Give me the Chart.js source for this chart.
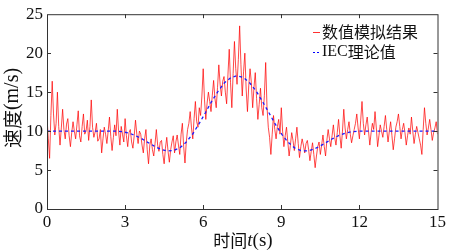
<!DOCTYPE html>
<html>
<head>
<meta charset="utf-8">
<script src="https://cdn.jsdelivr.net/npm/chart.js@4/dist/chart.umd.min.js"></script>
<style>
  html, body { margin: 0; padding: 0; background: #fff; }
  #wrap { width: 449px; height: 252px; }
</style>
</head>
<body>
<div id="wrap"><canvas id="speed"></canvas></div>
<script>
// Simulated wind speed, sampled every 0.05 s from 0 to 15 s (one row per second).
const simStep = 0.05;
const simSpeed = [
    11.8, 9.0, 6.5, 12.0, 16.4, 12.2, 9.5, 11.0, 15.0, 10.6, 8.2, 10.4, 12.8, 10.2, 9.0, 10.9, 11.6, 9.4, 8.0, 9.8,
    11.2, 10.0, 9.0, 10.8, 12.6, 9.4, 8.6, 10.6, 12.2, 9.6, 10.0, 11.4, 8.8, 10.6, 14.0, 10.5, 9.2, 9.9, 11.0, 8.7,
    9.0, 10.2, 7.2, 9.0, 10.5, 9.6, 8.4, 10.0, 11.8, 9.3, 7.5, 9.2, 10.8, 9.4, 12.8, 10.0, 8.2, 10.6, 9.6, 8.6,
    11.6, 9.4, 8.0, 9.8, 10.2, 8.6, 7.8, 9.4, 11.4, 9.6, 8.4, 10.0, 9.6, 8.2, 7.2, 9.0, 10.2, 7.6, 5.8, 8.2,
    9.0, 7.6, 6.8, 8.4, 10.2, 8.2, 7.4, 8.6, 8.8, 7.0, 5.8, 7.8, 9.2, 7.4, 6.0, 7.6, 8.6, 9.4, 7.2, 8.6,
    9.5, 8.2, 7.0, 9.6, 11.0, 8.0, 5.9, 8.6, 10.2, 11.0, 12.5, 10.4, 9.0, 11.6, 13.8, 11.2, 10.5, 13.0, 12.0, 14.5,
    18.0, 14.0, 11.5, 13.6, 15.0, 13.8, 12.5, 14.6, 16.5, 14.2, 13.0, 15.6, 18.5, 16.0, 14.5, 16.4, 17.0, 15.0, 13.5, 17.2,
    20.5, 16.2, 13.0, 17.4, 21.5, 18.0, 16.0, 19.2, 23.5, 18.5, 14.5, 17.6, 20.0, 15.4, 12.5, 15.8, 18.0, 16.2, 13.0, 15.6,
    17.5, 14.2, 11.5, 13.4, 15.5, 13.0, 12.0, 14.6, 18.8, 13.2, 10.5, 9.2, 7.0, 9.6, 12.0, 10.2, 9.0, 10.6, 11.5, 9.6,
    13.0, 10.0, 8.0, 9.4, 10.5, 8.6, 6.8, 8.2, 9.8, 8.8, 7.5, 9.0, 10.5, 8.4, 6.6, 8.0, 9.0, 8.2, 7.2, 8.4,
    8.8, 7.6, 6.2, 7.4, 8.5, 7.0, 5.3, 6.8, 8.0, 8.6, 7.0, 8.2, 9.5, 8.0, 6.8, 8.8, 10.2, 9.0, 8.0, 9.4,
    10.8, 9.2, 8.2, 9.8, 11.5, 9.4, 7.8, 10.0, 12.8, 10.4, 9.0, 10.2, 11.2, 9.6, 8.5, 9.4, 10.2, 11.0, 12.2, 10.4,
    9.0, 11.4, 13.8, 11.0, 9.5, 10.8, 11.8, 10.0, 8.2, 9.8, 11.0, 10.2, 12.5, 10.4, 8.0, 9.4, 10.8, 10.0, 9.2, 10.6,
    12.0, 10.2, 8.6, 10.0, 11.2, 9.4, 7.6, 9.0, 10.5, 11.2, 12.2, 10.6, 9.0, 10.2, 11.0, 9.8, 8.2, 9.4, 10.4, 9.6,
    11.8, 10.0, 8.4, 9.6, 10.6, 9.8, 9.0, 8.2, 7.0, 10.2, 13.0, 11.0, 9.5, 10.4, 11.5, 10.2, 8.8, 9.8, 10.4, 11.2,
    9.6
];

// IEC gust (theoretical) curve.
const iecTime = [0, 2.4, 2.65, 2.89, 3.14, 3.38, 3.63, 3.87, 4.12, 4.36, 4.61, 4.85, 5.10, 5.34,
    5.59, 5.83, 6.08, 6.32, 6.57, 6.81, 7.06, 7.30, 7.55, 7.79, 8.04, 8.28, 8.53, 8.77, 9.02,
    9.26, 9.51, 9.75, 10.00, 10.24, 10.49, 10.73, 10.98, 11.22, 11.47, 11.71, 11.96, 12.20, 15];
const iecSpeed = [10, 10.00, 9.99, 9.92, 9.75, 9.45, 9.04, 8.55, 8.07, 7.67, 7.45, 7.49, 7.85, 8.56,
    9.59, 10.88, 12.32, 13.78, 15.11, 16.17, 16.87, 17.10, 16.87, 16.17, 15.11, 13.78, 12.32, 10.88, 9.59,
    8.56, 7.85, 7.49, 7.45, 7.67, 8.07, 8.55, 9.04, 9.45, 9.75, 9.92, 9.99, 10.00, 10];

const xTicks = [0, 3, 6, 9, 12, 15];
const yTicks = [0, 5, 10, 15, 20, 25];
const seriesNames = ["数值模拟结果", "IEC理论值"];

const serif = "'Liberation Serif', 'Times New Roman', serif";
const cjk = "'Noto Sans CJK SC', sans-serif";

// Draw a run of text pieces, each with its own font.
function drawPieces(ctx, pieces, x, y, align) {
    let total = 0;
    for (const p of pieces) {
        ctx.font = p.font;
        p.w = ctx.measureText(p.text).width;
        total += p.w;
    }
    let cx = align === "center" ? x - total / 2 : x;
    ctx.textAlign = "left";
    ctx.textBaseline = "middle";
    for (const p of pieces) {
        ctx.font = p.font;
        ctx.fillText(p.text, cx, y);
        cx += p.w;
    }
}

// Box round the plot, inner ticks on every side, axis titles and the legend.
const framePlugin = {
    id: "frame",
    afterDraw(chart) {
        const {ctx, chartArea: a} = chart;
        const xs = chart.scales.x, ys = chart.scales.y;
        ctx.save();
        ctx.strokeStyle = "#333";
        ctx.lineWidth = 1;
        ctx.strokeRect(a.left + 0.5, a.top + 0.5, a.right - a.left, a.bottom - a.top);
        ctx.beginPath();
        for (const v of xTicks.slice(1, -1)) {
            const px = Math.round(xs.getPixelForValue(v)) + 0.5;
            ctx.moveTo(px, a.bottom); ctx.lineTo(px, a.bottom - 4);
            ctx.moveTo(px, a.top); ctx.lineTo(px, a.top + 4);
        }
        for (const v of yTicks.slice(1, -1)) {
            const py = Math.round(ys.getPixelForValue(v)) + 0.5;
            ctx.moveTo(a.left, py); ctx.lineTo(a.left + 4, py);
            ctx.moveTo(a.right, py); ctx.lineTo(a.right - 4, py);
        }
        ctx.stroke();

        ctx.fillStyle = "#111";
        // x axis title
        drawPieces(ctx, [
            {text: "时间", font: "17px " + cjk},
            {text: "t", font: "italic 19px " + serif},
            {text: "(s)", font: "19px " + serif},
        ], 243, 241, "center");
        // y axis title
        ctx.save();
        ctx.translate(13, 108);
        ctx.rotate(-Math.PI / 2);
        drawPieces(ctx, [
            {text: "速度", font: "19px " + cjk},
            {text: "(m/s)", font: "20px " + serif},
        ], 0, 0, "center");
        ctx.restore();

        // legend
        const lx = 313, ly1 = 32, ly2 = 52;
        ctx.lineWidth = 1;
        ctx.strokeStyle = "#ff3030";
        ctx.beginPath();
        ctx.moveTo(lx, ly1 + 0.5); ctx.lineTo(lx + 7, ly1 + 0.5);
        ctx.stroke();
        ctx.strokeStyle = "#0000ff";
        ctx.setLineDash([2, 2]);
        ctx.beginPath();
        ctx.moveTo(lx, ly2 + 0.5); ctx.lineTo(lx + 8, ly2 + 0.5);
        ctx.stroke();
        ctx.setLineDash([]);
        drawPieces(ctx, [{text: seriesNames[0], font: "16px " + cjk}], lx + 9, ly1, "left");
        drawPieces(ctx, [
            {text: "IEC", font: "16px " + serif},
            {text: "理论值", font: "16px " + cjk},
        ], lx + 9, ly2, "left");
        ctx.restore();
    }
};

new Chart(document.getElementById("speed"), {
    type: "line",
    data: {
        datasets: [
            {
                label: seriesNames[0],
                data: simSpeed.map((v, i) => ({x: +(i * simStep).toFixed(2), y: v})),
                borderColor: "rgba(255, 0, 0, 0.8)",
                borderWidth: 0.9,
                pointRadius: 0,
                tension: 0,
                order: 2,
            },
            {
                label: seriesNames[1],
                data: iecTime.map((t, i) => ({x: t, y: iecSpeed[i]})),
                borderColor: "#1a1aff",
                borderWidth: 1.3,
                borderDash: [3, 3],
                pointRadius: 0,
                tension: 0,
                order: 1,
            },
        ],
    },
    options: {
        responsive: true,
        maintainAspectRatio: false,
        animation: false,
        layout: {padding: {left: 0, right: 10, top: 9, bottom: 0}},
        plugins: {
            legend: {display: false},
            tooltip: {enabled: false},
        },
        scales: {
            x: {
                type: "linear",
                min: 0,
                max: 15,
                afterFit: s => { s.height = 43; },
                afterBuildTicks: s => { s.ticks = xTicks.map(v => ({value: v})); },
                ticks: {
                    padding: 3,
                    maxRotation: 0,
                    color: "#111",
                    font: {family: serif, size: 17},
                },
                grid: {display: true, drawOnChartArea: false, drawTicks: false, color: "transparent"},
                border: {display: false},
            },
            y: {
                min: 0,
                max: 25,
                afterFit: s => { s.width = 47; },
                afterBuildTicks: s => { s.ticks = yTicks.map(v => ({value: v})); },
                ticks: {
                    padding: 4,
                    color: "#111",
                    font: {family: serif, size: 17},
                },
                grid: {display: true, drawOnChartArea: false, drawTicks: false, color: "transparent"},
                border: {display: false},
            },
        },
    },
    plugins: [framePlugin],
});
</script>
</body>
</html>
